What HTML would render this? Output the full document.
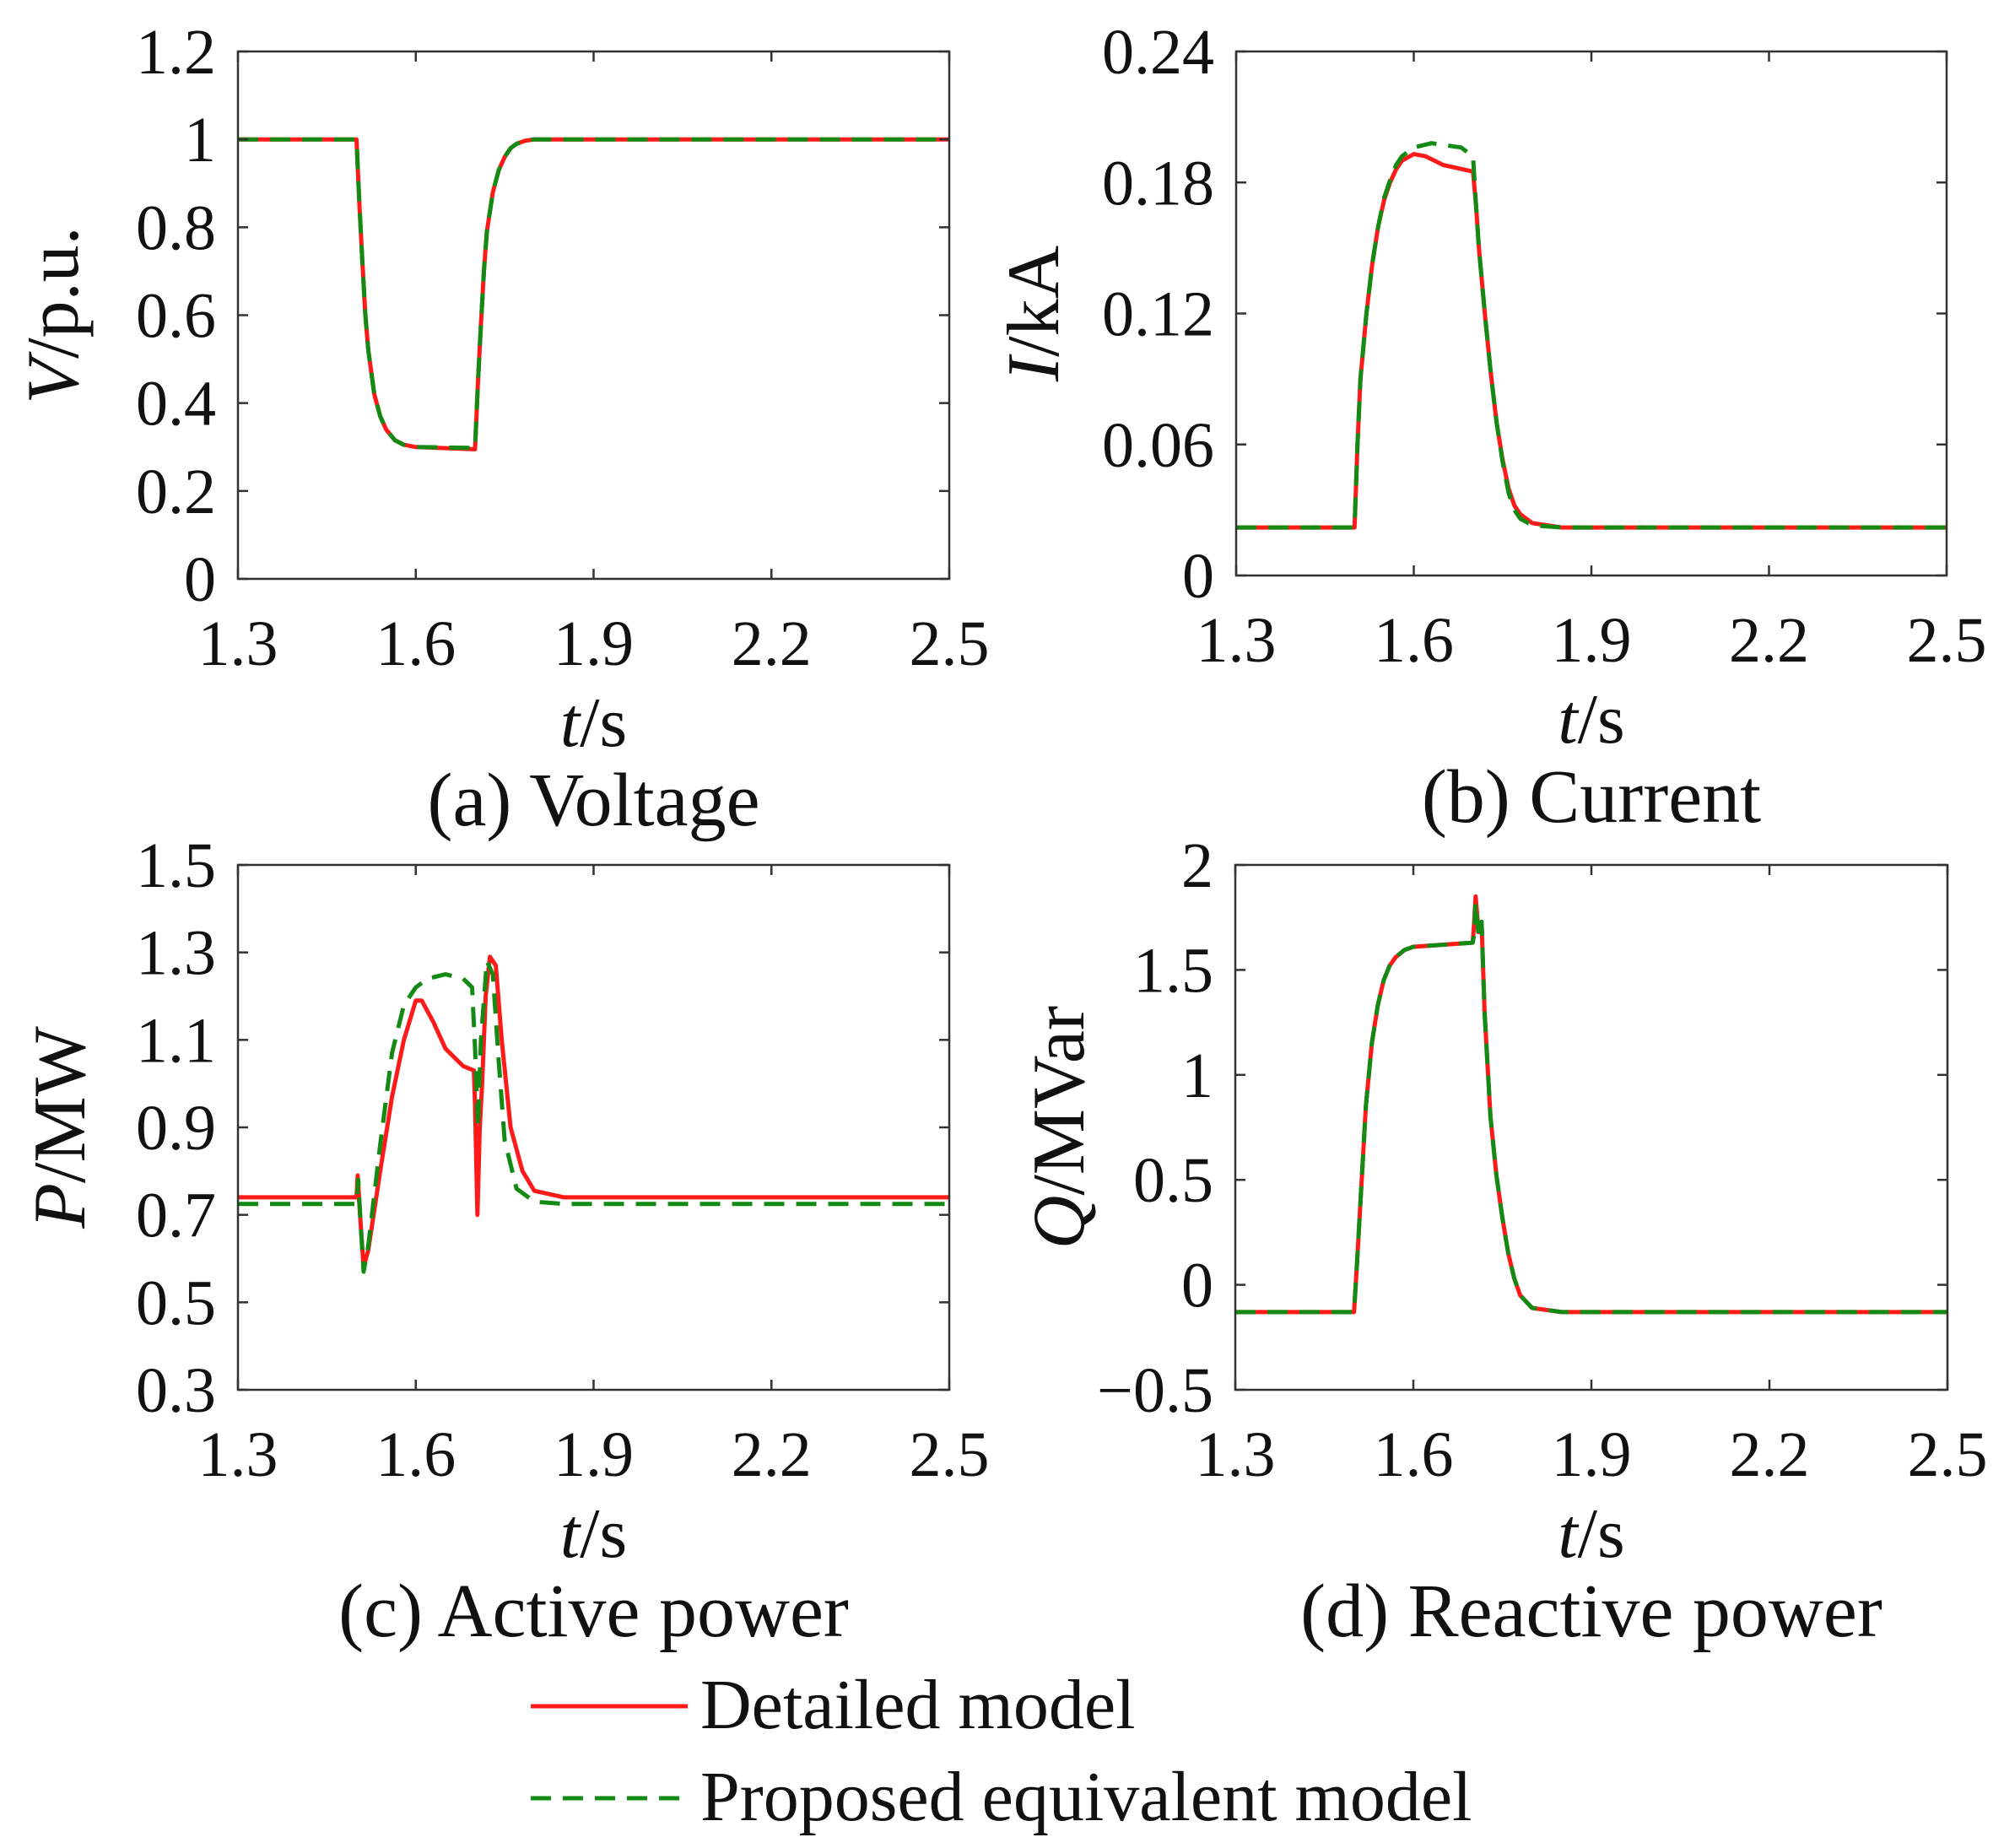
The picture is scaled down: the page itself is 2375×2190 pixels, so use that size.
<!DOCTYPE html>
<html><head><meta charset="utf-8"><style>
html,body{margin:0;padding:0;background:#fff}
svg{display:block}
text{font-family:"Liberation Serif",serif;fill:#111}
</style></head><body>
<svg id="fig" width="2375" height="2190" viewBox="0 0 2375 2190" xmlns="http://www.w3.org/2000/svg">
<g>
<line x1="629" y1="2022" x2="815" y2="2022" stroke="#ff1a1a" stroke-width="5"/>
<text x="830" y="2048" font-size="84">Detailed model</text>
<line x1="629" y1="2131" x2="815" y2="2131" stroke="#138a13" stroke-width="5" stroke-dasharray="24,14"/>
<text x="830" y="2157" font-size="84">Proposed equivalent model</text>
</g>
</svg>
<script>
// Shared time axis ticks
const xTicks = [1.3, 1.6, 1.9, 2.2, 2.5];

// (a) Voltage
const vTicks = [0, 0.2, 0.4, 0.6, 0.8, 1, 1.2];
const vTimeDet = [1.3,1.5,1.505,1.51,1.515,1.52,1.53,1.54,1.55,1.565,1.58,1.6,1.7,1.705,1.71,1.715,1.72,1.73,1.74,1.75,1.76,1.77,1.785,1.8,2.5];
const vDet = [1,1,0.85,0.72,0.6,0.52,0.42,0.37,0.34,0.315,0.305,0.3,0.295,0.45,0.58,0.7,0.79,0.88,0.93,0.96,0.98,0.99,0.997,1,1];
const vTimeEq = [1.3,1.5,1.505,1.51,1.515,1.52,1.53,1.54,1.55,1.565,1.58,1.6,1.7,1.705,1.71,1.715,1.72,1.73,1.74,1.75,1.76,1.77,1.785,1.8,2.5];
const vEq = [1,1,0.85,0.72,0.6,0.52,0.42,0.37,0.34,0.315,0.305,0.3,0.298,0.45,0.58,0.7,0.79,0.88,0.93,0.96,0.98,0.99,0.997,1,1];

// (b) Current
const iTicks = [0, 0.06, 0.12, 0.18, 0.24];
const iTickLabels = ["0","0.06","0.12","0.18","0.24"];
const iTimeDet = [1.3,1.5,1.505,1.51,1.52,1.53,1.54,1.55,1.56,1.57,1.58,1.6,1.62,1.65,1.7,1.705,1.71,1.72,1.73,1.74,1.75,1.76,1.77,1.78,1.8,1.85,2.5];
const iDet = [0.022,0.022,0.06,0.09,0.12,0.143,0.16,0.172,0.18,0.186,0.19,0.193,0.192,0.188,0.185,0.17,0.15,0.12,0.093,0.07,0.053,0.04,0.032,0.028,0.024,0.022,0.022];
const iTimeEq = [1.3,1.5,1.505,1.51,1.52,1.53,1.54,1.55,1.56,1.57,1.58,1.6,1.63,1.68,1.7,1.705,1.71,1.72,1.73,1.74,1.75,1.76,1.77,1.78,1.8,1.85,2.5];
const iEq = [0.022,0.022,0.06,0.09,0.12,0.143,0.16,0.173,0.181,0.188,0.192,0.196,0.198,0.196,0.192,0.17,0.15,0.12,0.093,0.07,0.052,0.038,0.03,0.026,0.023,0.022,0.022];

// (c) Active power
const pTicks = [0.3, 0.5, 0.7, 0.9, 1.1, 1.3, 1.5];
const pTimeDet = [1.3,1.5,1.502,1.506,1.512,1.52,1.54,1.56,1.58,1.6,1.61,1.63,1.65,1.68,1.698,1.7,1.704,1.708,1.712,1.718,1.725,1.735,1.745,1.76,1.78,1.8,1.85,2.5];
const pDet = [0.74,0.74,0.79,0.7,0.58,0.62,0.8,0.97,1.1,1.19,1.19,1.14,1.08,1.04,1.03,0.95,0.7,0.9,1.0,1.2,1.29,1.27,1.1,0.9,0.8,0.755,0.74,0.74];
const pTimeEq = [1.3,1.5,1.503,1.507,1.512,1.52,1.54,1.56,1.58,1.6,1.62,1.65,1.68,1.695,1.7,1.705,1.71,1.72,1.73,1.74,1.75,1.77,1.8,1.85,2.5];
const pEq = [0.725,0.725,0.78,0.68,0.57,0.63,0.86,1.07,1.18,1.22,1.24,1.25,1.24,1.22,1.08,0.9,1.1,1.28,1.25,1.05,0.87,0.76,0.73,0.725,0.725];

// (d) Reactive power
const qTicks = [-0.5, 0, 0.5, 1, 1.5, 2];
const qTickLabels = ["\u22120.5","0","0.5","1","1.5","2"];
const qTimeDet = [1.3,1.5,1.505,1.51,1.515,1.52,1.53,1.54,1.55,1.56,1.57,1.585,1.6,1.7,1.702,1.705,1.71,1.715,1.72,1.73,1.74,1.75,1.76,1.77,1.78,1.8,1.85,2.5];
const qDet = [-0.13,-0.13,0.1,0.35,0.6,0.85,1.15,1.33,1.45,1.52,1.56,1.595,1.61,1.63,1.7,1.85,1.68,1.72,1.3,0.8,0.52,0.32,0.15,0.03,-0.05,-0.11,-0.13,-0.13];
const qTimeEq = [1.3,1.5,1.505,1.51,1.515,1.52,1.53,1.54,1.55,1.56,1.57,1.585,1.6,1.7,1.702,1.705,1.71,1.715,1.72,1.73,1.74,1.75,1.76,1.77,1.78,1.8,1.85,2.5];
const qEq = [-0.13,-0.13,0.1,0.35,0.6,0.85,1.15,1.33,1.45,1.52,1.56,1.595,1.61,1.63,1.66,1.82,1.66,1.73,1.3,0.8,0.52,0.32,0.15,0.03,-0.05,-0.11,-0.13,-0.13];

const NS = "http://www.w3.org/2000/svg";
const svg = document.getElementById('fig');
function mk(tag, attrs, parent){ const e=document.createElementNS(NS,tag); for(const k in attrs) e.setAttribute(k,attrs[k]); (parent||svg).appendChild(e); return e; }

function panel(cfg){
  const g = mk('g',{});
  
  
  const L=cfg.L,R=cfg.R,T=cfg.T,B=cfg.B;
  const sx = t => L + (t-1.3)/(2.5-1.3)*(R-L);
  const sy = v => B - (v-cfg.ymin)/(cfg.ymax-cfg.ymin)*(B-T);
  const draw = (ts, vs, color, dash, nm) => {
    let d=''; ts.forEach((t,i)=>{ d += (i?'L':'M') + sx(t).toFixed(1)+','+sy(vs[i]).toFixed(1); });
    const p = mk('path',{d:d,fill:'none',stroke:color,'stroke-width':5,'stroke-linejoin':'round'},g);
    if(dash) p.setAttribute('stroke-dasharray',dash);
    
    
  };
  draw(cfg.td, cfg.vd, '#ff1a1a', null, cfg.name+'-detailed-line');
  draw(cfg.te, cfg.ve, '#138a13', '24,14', cfg.name+'-equivalent-line');
  const fr = mk('rect',{x:L,y:T,width:R-L,height:B-T,fill:'none',stroke:'#333','stroke-width':2.5},g);
  
  
  xTicks.forEach(t=>{
    const x=sx(t);
    mk('line',{x1:x,y1:B,x2:x,y2:B-12,stroke:'#333','stroke-width':2.5},g);
    mk('line',{x1:x,y1:T,x2:x,y2:T+12,stroke:'#333','stroke-width':2.5},g);
    const tx = mk('text',{x:x,y:B+102,'font-size':76,'text-anchor':'middle'},g);
    tx.textContent = t.toFixed(1);
    
    
  });
  cfg.yt.forEach((v,i)=>{
    const y=sy(v);
    mk('line',{x1:L,y1:y,x2:L+12,y2:y,stroke:'#333','stroke-width':2.5},g);
    mk('line',{x1:R,y1:y,x2:R-12,y2:y,stroke:'#333','stroke-width':2.5},g);
    const tx = mk('text',{x:L-26,y:y+26,'font-size':76,'text-anchor':'end'},g);
    tx.textContent = cfg.yl ? cfg.yl[i] : String(v);
    
    
  });
  const xt = mk('text',{x:(L+R)/2,y:B+198,'font-size':84,'text-anchor':'middle'},g);
  xt.innerHTML = '<tspan font-style="italic">t</tspan>/s';
  
  
  const yt = mk('text',{x:0,y:0,'font-size':88,'text-anchor':'middle',transform:'translate('+cfg.ytx+','+((T+B)/2)+') rotate(-90)'},g);
  yt.innerHTML = '<tspan font-style="italic">'+cfg.yv+'</tspan>/'+cfg.yu;
  
  
  const cp = mk('text',{x:(L+R)/2,y:B+292,'font-size':90,'text-anchor':'middle'},g);
  cp.textContent = cfg.cap;
  
  
}

panel({name:'voltage-panel',L:282,R:1125,T:61,B:686,ymin:0,ymax:1.2,yt:vTicks,td:vTimeDet,vd:vDet,te:vTimeEq,ve:vEq,ytx:92,yv:'V',yu:'p.u.',cap:'(a) Voltage'});
panel({name:'current-panel',L:1465,R:2307,T:61,B:682,ymin:0,ymax:0.24,yt:iTicks,yl:iTickLabels,td:iTimeDet,vd:iDet,te:iTimeEq,ve:iEq,ytx:1254,yv:'I',yu:'kA',cap:'(b) Current'});
panel({name:'active-power-panel',L:282,R:1125,T:1025,B:1647,ymin:0.3,ymax:1.5,yt:pTicks,td:pTimeDet,vd:pDet,te:pTimeEq,ve:pEq,ytx:100,yv:'P',yu:'MW',cap:'(c) Active power'});
panel({name:'reactive-power-panel',L:1464,R:2308,T:1025,B:1647,ymin:-0.5,ymax:2,yt:qTicks,yl:qTickLabels,td:qTimeDet,vd:qDet,te:qTimeEq,ve:qEq,ytx:1284,yv:'Q',yu:'MVar',cap:'(d) Reactive power'});
</script>
</body></html>
